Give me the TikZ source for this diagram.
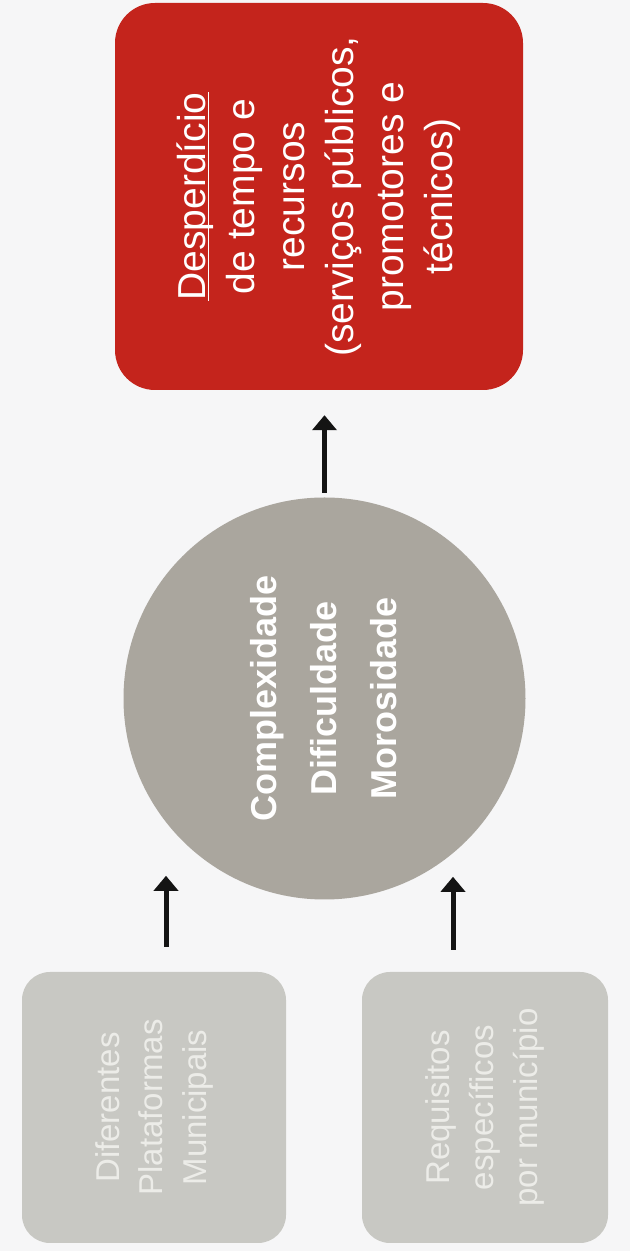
\documentclass[tikz,border=0pt]{standalone}
\usepackage{fontspec}
\setmainfont{Liberation Sans}
\usetikzlibrary{arrows.meta}
\definecolor{bg}{RGB}{246,246,247}
\definecolor{redbox}{RGB}{196,36,28}
\definecolor{circgray}{RGB}{170,166,158}
\definecolor{boxgray}{RGB}{200,200,195}
\definecolor{lighttext}{RGB}{236,236,232}
\definecolor{arrowcol}{RGB}{20,20,20}
\newcommand\ulword[1]{\setbox0\hbox{#1}\rlap{\rule[-4pt]{\wd0}{1.6pt}}\box0}
\begin{document}
\begin{tikzpicture}[x=1pt,y=1pt,
  redstyle/.style={fill=redbox, rounded corners=40pt, minimum width=408pt, minimum height=387pt, inner sep=0pt, text=white},
  circstyle/.style={circle, fill=circgray, minimum size=402pt, inner sep=0pt, text=white},
  graystyle/.style={fill=boxgray, rounded corners=28pt, minimum height=271pt, inner sep=0pt, text=lighttext},
  arr/.style={line width=5pt, draw=arrowcol, -{Triangle[width=24pt,length=15pt]}}
]
\fill[bg] (0,0) rectangle (630,1251);
\useasboundingbox (0,0) rectangle (630,1251);

\node[redstyle] (red) at (319,1054.5) {\rotatebox{90}{\fontsize{39}{49.5}\selectfont
  \begin{tabular}{@{}c@{}}\ulword{Desperdício}\\ de tempo e\\ recursos\\ (serviços públicos,\\ promotores e\\ técnicos)\end{tabular}}};

\node[circstyle] (circ) at (324.5,552.5) {\rotatebox{90}{\fontsize{36}{60}\selectfont\bfseries
  \begin{tabular}{@{}c@{}}Complexidade\\ Dificuldade\\ Morosidade\end{tabular}}};

\node[graystyle, minimum width=264pt] (lbox) at (154,143.5) {\rotatebox{90}{\fontsize{33}{43.5}\selectfont
  \begin{tabular}{@{}c@{}}Diferentes\\ Plataformas\\ Municipais\end{tabular}}};

\node[graystyle, minimum width=246pt] (rbox) at (485,143.5) {\rotatebox{90}{\fontsize{33}{44}\selectfont
  \begin{tabular}{@{}c@{}}Requisitos\\ específicos\\ por município\end{tabular}}};

\draw[arr, shorten <=4.5pt, shorten >=25pt] (circ.north) -- (circ.north |- red.south);
\draw[arr] ([xshift=12pt,yshift=25pt]lbox.north) -- ++(0,71);
\draw[arr] ([xshift=-32pt,yshift=22pt]rbox.north) -- ++(0,73);
\end{tikzpicture}
\end{document}
